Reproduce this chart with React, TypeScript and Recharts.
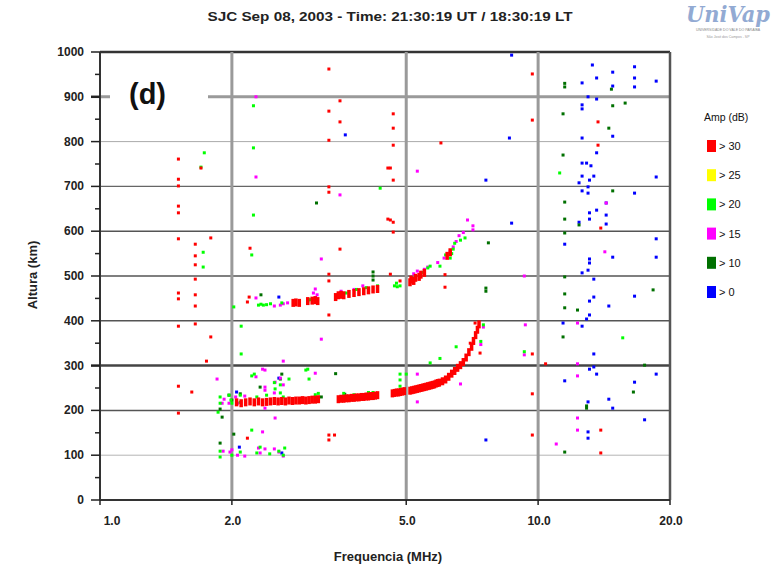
import React from "react";
import { ScatterChart, Scatter, XAxis, YAxis, ReferenceLine } from "recharts";

type P = [number, number];

// ---- tick values / labels ----
const xTicks = [1, 2, 5, 10, 20];
const xTickLabels = ["1.0", "2.0", "5.0", "10.0", "20.0"];
const yTicks = [0, 50, 100, 150, 200, 250, 300, 350, 400, 450, 500, 550, 600, 650, 700, 750, 800, 850, 900, 950, 1000];
const legendLabels = ["> 30", "> 25", "> 20", "> 15", "> 10", "> 0"];
const legendColors = ["#ff0000", "#ffff00", "#00ff00", "#ff00ff", "#007000", "#0000ff"];

// ---- echoes: [frequency MHz, virtual height km] ----
const redTrace: P[] = [
  [2.05, 218], [2.1, 216], [2.15, 218], [2.2, 220], [2.25, 218], [2.3, 220], [2.35, 218], [2.4, 219], [2.45, 220],
  [2.5, 221], [2.55, 220], [2.6, 221], [2.65, 220], [2.7, 222], [2.75, 221], [2.8, 222], [2.85, 222], [2.9, 223],
  [2.95, 222], [3.0, 223], [3.05, 224], [3.1, 224], [3.15, 225],
  [3.5, 225], [3.55, 226], [3.6, 226], [3.65, 227], [3.7, 227], [3.75, 228], [3.8, 228], [3.85, 229], [3.9, 229],
  [3.95, 230], [4.0, 230], [4.05, 231], [4.1, 231], [4.15, 232], [4.2, 232], [4.25, 233], [4.3, 234],
  [4.65, 238], [4.7, 239], [4.75, 240], [4.8, 240], [4.85, 241], [4.9, 242], [4.95, 243],
  [5.1, 244], [5.15, 245], [5.2, 246], [5.25, 247], [5.3, 248], [5.35, 249], [5.4, 250], [5.45, 251], [5.5, 252],
  [5.55, 253], [5.6, 254], [5.65, 255], [5.7, 256], [5.75, 257], [5.8, 258], [5.85, 260], [5.9, 261], [5.95, 262],
  [6.05, 265], [6.15, 269], [6.25, 275], [6.35, 282], [6.45, 288], [6.55, 295], [6.65, 301], [6.75, 308],
  [6.85, 318], [6.95, 330], [7.05, 342], [7.12, 355], [7.2, 368], [7.27, 380], [7.33, 392],
  [2.76, 440], [2.8, 441], [2.85, 440], [2.98, 444], [3.05, 445], [3.1, 446], [3.14, 444],
  [3.45, 453], [3.5, 457], [3.55, 458], [3.6, 457], [3.7, 460], [3.8, 462], [3.9, 464], [4.0, 466], [4.1, 468],
  [4.2, 470], [4.3, 471], [5.1, 486], [5.13, 492], [5.2, 489], [5.25, 496], [5.35, 498], [5.4, 503], [5.5, 507],
  [6.2, 545], [6.3, 553],
];

const redScatter: P[] = [
  [1.51, 761], [1.51, 716], [1.51, 701], [1.51, 656], [1.51, 641], [1.51, 583], [1.51, 462], [1.51, 449],
  [1.51, 388], [1.51, 254], [1.51, 194], [1.65, 571], [1.65, 545], [1.65, 525], [1.65, 493], [1.65, 458],
  [1.65, 433], [1.65, 393], [1.79, 585], [1.79, 364], [1.75, 310], [1.62, 241], [1.70, 741],
  [2.20, 562], [2.19, 453], [2.17, 442], [2.17, 138],
  [3.33, 962], [3.53, 891], [3.33, 868], [3.53, 844], [3.33, 803], [3.33, 699], [3.33, 687], [4.54, 741],
  [4.54, 627], [3.33, 504], [3.33, 489], [3.33, 413], [3.33, 145], [3.43, 145], [3.33, 134], [3.53, 560],
  [4.67, 862], [4.67, 830], [4.67, 792], [4.60, 741], [4.67, 714], [4.60, 625], [4.67, 620], [4.67, 598],
  [4.60, 504], [4.84, 489], [6.0, 797], [6.13, 475], [6.13, 503], [7.18, 395], [7.37, 328], [7.0, 350],
  [9.7, 951], [9.7, 848], [13.7, 844], [13.7, 792], [13.9, 607], [9.7, 326], [10.4, 304], [9.7, 237],
  [9.7, 145], [13.9, 156], [13.9, 105],
];

const greenPts: P[] = [
  [1.73, 775], [1.70, 743], [2.24, 880], [2.24, 786], [2.24, 636], [4.36, 696], [1.72, 553], [1.72, 520],
  [2.22, 547], [2.02, 431], [2.10, 388], [2.10, 326], [2.22, 277], [2.98, 292], [3.0, 270], [2.22, 156],
  [2.64, 116], [15.6, 362], [11.2, 730], [7.5, 391], [7.4, 354], [9.3, 331],
  [2.3, 435], [2.33, 437], [2.36, 435], [2.4, 436], [2.45, 438], [2.6, 440], [2.98, 444], [3.02, 447],
  [4.7, 478], [4.75, 484], [4.77, 476], [5.67, 522], [5.97, 522], [6.3, 540], [6.35, 550], [6.4, 560],
  [6.45, 573], [6.65, 580], [6.81, 585], [4.3, 478], [4.05, 474], [3.65, 462], [3.85, 470], [5.45, 508],
  [5.6, 518], [6.15, 547], [4.84, 478], [5.67, 306], [5.97, 316], [6.5, 342], [4.84, 281], [4.84, 268], [4.84, 254],
  [1.88, 96], [1.88, 109], [2.0, 100], [2.09, 107], [2.28, 105], [2.32, 118], [2.44, 103], [2.56, 109], [2.62, 100],
  [1.88, 230], [1.88, 216], [1.97, 234], [1.99, 223], [2.0, 216], [2.09, 234], [2.09, 218], [2.28, 230],
  [2.30, 216], [2.40, 234], [2.51, 248], [2.58, 239], [2.62, 230], [2.58, 257], [1.86, 196],
  [2.25, 281], [2.95, 290], [2.5, 262], [2.7, 270], [3.8, 235], [4.1, 240], [5.0, 281], [3.1, 235], [3.15, 238],
  [3.6, 238], [4.2, 240],
];

const magentaPts: P[] = [
  [2.27, 900], [2.27, 721], [3.53, 681], [3.2, 538], [5.3, 734], [6.9, 625], [7.1, 612], [7.1, 603], [9.3, 500],
  [2.27, 451], [3.1, 471], [3.07, 462], [3.2, 359], [2.62, 310], [1.85, 270], [2.35, 292], [3.1, 283], [2.51, 183],
  [2.35, 152], [5.3, 281], [5.3, 219], [6.65, 259],
  [14.3, 663], [14.2, 554], [9.35, 391], [9.3, 324], [12.3, 395], [12.3, 304], [12.3, 277], [12.3, 183],
  [12.3, 156], [11.0, 125], [7.4, 347], [7.5, 386],
  [1.91, 109], [1.98, 107], [2.0, 112], [2.06, 100], [2.14, 98], [2.3, 116], [2.32, 105], [2.38, 114], [2.5, 114],
  [2.56, 107], [2.62, 98],
  [1.90, 216], [1.92, 225], [1.97, 216], [2.04, 230], [2.14, 232], [2.06, 216], [2.38, 252], [2.38, 245],
  [2.5, 239], [2.51, 263], [2.62, 257], [2.38, 205], [2.58, 272], [2.27, 275], [2.38, 290],
  [2.5, 433], [2.58, 435], [2.62, 438], [2.68, 440], [3.55, 466], [3.8, 470], [3.98, 478], [5.2, 505], [5.3, 511],
  [5.5, 515], [5.6, 520], [5.9, 530], [6.1, 540], [6.3, 555], [6.4, 565], [6.5, 577], [6.6, 590], [6.75, 597],
  [3.1, 452], [3.13, 458],
];

const darkGreenPts: P[] = [
  [3.12, 663], [4.2, 509], [4.2, 500], [4.2, 491], [7.6, 473], [7.6, 466], [7.7, 574],
  [11.5, 930], [11.5, 922], [14.8, 880], [15.8, 886], [11.4, 862], [14.5, 830], [11.4, 770], [14.8, 690],
  [11.5, 665], [11.5, 627], [12.4, 614], [11.5, 596], [11.5, 498], [11.5, 460], [11.5, 429], [12.3, 424],
  [18.3, 469], [11.4, 364], [17.5, 301], [16.5, 241], [12.9, 210], [12.9, 205], [11.5, 107], [14.7, 917],
  [2.33, 458], [1.88, 203], [1.90, 185], [2.02, 147], [1.88, 127], [2.6, 281], [1.97, 234], [2.0, 223],
  [2.09, 237], [2.32, 252], [2.58, 270], [3.45, 282], [3.2, 230], [3.62, 236], [2.98, 447], [3.05, 448],
];

const bluePts: P[] = [
  [13.3, 971], [16.6, 967], [14.8, 955], [13.6, 942], [16.6, 942], [18.6, 935], [12.6, 931], [14.8, 924],
  [16.6, 922], [13.0, 900], [13.6, 895], [12.6, 882], [12.6, 873], [12.6, 808], [14.8, 812], [13.6, 775],
  [12.6, 752], [12.9, 752], [13.2, 746], [12.6, 723], [13.4, 723], [12.4, 708], [13.1, 714], [18.6, 721],
  [13.0, 699], [12.6, 690], [13.0, 685], [16.6, 685], [14.3, 663], [13.6, 647], [13.1, 641], [14.3, 636],
  [13.1, 627], [12.4, 620], [14.3, 616], [11.5, 571], [18.6, 583], [14.8, 542], [18.6, 542], [13.1, 538],
  [13.1, 529], [13.0, 513], [12.6, 507], [13.4, 493], [16.6, 455], [13.4, 453], [13.1, 444], [14.5, 433],
  [13.1, 413], [12.9, 404], [11.4, 395], [12.6, 388], [13.4, 326], [13.4, 297], [13.1, 292], [13.6, 281],
  [18.6, 281], [11.5, 266], [16.6, 263], [13.0, 219], [14.5, 225], [14.8, 205], [17.5, 179], [13.0, 152],
  [13.0, 138], [8.7, 993], [8.6, 808], [7.6, 714], [8.7, 618], [3.63, 815], [7.6, 134],
  [2.05, 241], [2.56, 453], [2.56, 272], [2.08, 118], [2.6, 105],
];

const toPts = (a: P[]) => a.map(([f, h]) => ({ f, h }));

const FONT = "'Liberation Sans', Arial, Helvetica, sans-serif";

const gridStyle: Record<number, { stroke: string; w: number }> = {
  100: { stroke: "#b4b4b4", w: 1 },
  200: { stroke: "#555", w: 1.5 },
  300: { stroke: "#444", w: 2.5 },
  400: { stroke: "#555", w: 1.5 },
  500: { stroke: "#555", w: 1.5 },
  600: { stroke: "#555", w: 1.5 },
  700: { stroke: "#666", w: 1.2 },
  800: { stroke: "#aaa", w: 1 },
  900: { stroke: "#9a9a9a", w: 3 },
  1000: { stroke: "#333", w: 2.5 },
};

const dot = (color: string, w: number, h: number) => (props: any) => {
  const { cx, cy } = props;
  if (cx == null || cy == null) return <g />;
  return <rect x={cx - w / 2} y={cy - h / 2} width={w} height={h} fill={color} />;
};

const XTick = (props: any) => {
  const { x, y, payload, index } = props;
  const i = xTicks.indexOf(payload.value);
  return (
    <g>
      <line x1={x} x2={x} y1={y} y2={y + 5} stroke="#222" strokeWidth={1.5} />
      <text x={i === 0 ? x + 12 : x + 1} y={y + 25} textAnchor="middle" fontSize={12} fontWeight="bold" fontFamily={FONT} fill="#222">
        {xTickLabels[i] ?? xTickLabels[index]}
      </text>
    </g>
  );
};

const YTick = (props: any) => {
  const { x, y, payload } = props;
  const v = payload.value as number;
  const major = v % 100 === 0;
  return (
    <g>
      <line x1={x - (major ? 9 : 5)} x2={x} y1={y} y2={y} stroke="#222" strokeWidth={v === 300 || v === 900 ? 2.5 : 1.5} />
      {major && (
        <text x={x - 16} y={y + 4} textAnchor="end" fontSize={12} fontWeight="bold" fontFamily={FONT} fill="#222">
          {v}
        </text>
      )}
    </g>
  );
};

export default function App() {
  const hLines = yTicks.filter((v) => v % 100 === 0 && v > 0);
  return (
    <div style={{ position: "absolute", left: 0, top: 0, width: 778, height: 567, background: "#fff" }}>
      <ScatterChart width={778} height={567} margin={{ top: 52, right: 108, bottom: 37, left: 40 }}>
        <XAxis
          type="number"
          dataKey="f"
          scale="log"
          domain={[1, 20]}
          ticks={xTicks}
          interval={0}
          allowDataOverflow
          height={30}
          tickLine={false}
          tickSize={0}
          tickMargin={0}
          axisLine={{ stroke: "#333", strokeWidth: 2 }}
          tick={<XTick />}
        />
        <YAxis
          type="number"
          dataKey="h"
          domain={[0, 1000]}
          ticks={yTicks}
          interval={0}
          allowDataOverflow
          width={60}
          tickLine={false}
          tickSize={0}
          tickMargin={0}
          axisLine={{ stroke: "#333", strokeWidth: 2 }}
          tick={<YTick />}
        />
        {hLines.map((v) => (
          <ReferenceLine key={"h" + v} y={v} stroke={gridStyle[v].stroke} strokeWidth={gridStyle[v].w} ifOverflow="extendDomain" />
        ))}
        {[2, 5, 10].map((v) => (
          <ReferenceLine key={"v" + v} x={v} stroke="#9a9a9a" strokeWidth={3} />
        ))}
        <ReferenceLine x={20} stroke="#555" strokeWidth={2.5} />
        <Scatter data={toPts(bluePts)} isAnimationActive={false} shape={dot("#0000ff", 3, 3)} />
        <Scatter data={toPts(darkGreenPts)} isAnimationActive={false} shape={dot("#007000", 3, 3)} />
        <Scatter data={toPts(magentaPts)} isAnimationActive={false} shape={dot("#ff00ff", 3, 3)} />
        <Scatter data={toPts(greenPts)} isAnimationActive={false} shape={dot("#00ff00", 3, 3)} />
        <Scatter data={toPts(redTrace)} isAnimationActive={false} shape={dot("#ff0000", 3.5, 8)} />
        <Scatter data={toPts(redScatter)} isAnimationActive={false} shape={dot("#ff0000", 3, 3)} />
      </ScatterChart>
      <svg width={778} height={567} style={{ position: "absolute", left: 0, top: 0, pointerEvents: "none" }}>
        <text x={390} y={21} textAnchor="middle" fontSize={12.5} fontWeight="bold" fontFamily={FONT} fill="#222"
          textLength={365} lengthAdjust="spacingAndGlyphs">
          SJC Sep 08, 2003 - Time: 21:30:19 UT / 18:30:19 LT
        </text>
        <text x={388} y={561} textAnchor="middle" fontSize={13} fontWeight="bold" fontFamily={FONT} fill="#222">
          Frequencia (MHz)
        </text>
        <text x={37} y={275} textAnchor="middle" fontSize={13} fontWeight="bold" fontFamily={FONT} fill="#222"
          transform="rotate(-90 37 275)">
          Altura (km)
        </text>
        <rect x={110} y={66} width={98} height={56} fill="#fff" />
        <text x={129} y={104} fontSize={29} fontWeight="bold" fontFamily={FONT} fill="#111">(d)</text>
        <text x={704} y={121} fontSize={10.5} fontFamily={FONT} fill="#111">Amp (dB)</text>
        {legendLabels.map((l, i) => (
          <g key={l}>
            <rect x={707} y={140 + i * 29.2} width={9} height={12} fill={legendColors[i]} />
            <text x={719} y={150 + i * 29.2} fontSize={11} fontFamily={FONT} fill="#111">{l}</text>
          </g>
        ))}
        <text x={686} y={22} fontSize={22} fontWeight="bold" fontStyle="italic" fontFamily="'DejaVu Serif', serif"
          fill="#7f9ccc" textLength={84} lengthAdjust="spacingAndGlyphs" opacity={0.85}>UniVap</text>
        <text x={728} y={31} fontSize={3.5} textAnchor="middle" fontFamily={FONT} fill="#888">UNIVERSIDADE DO VALE DO PARAÍBA</text>
        <text x={728} y={38} fontSize={3.5} textAnchor="middle" fontFamily={FONT} fill="#999">São José dos Campos - SP</text>
      </svg>
    </div>
  );
}
